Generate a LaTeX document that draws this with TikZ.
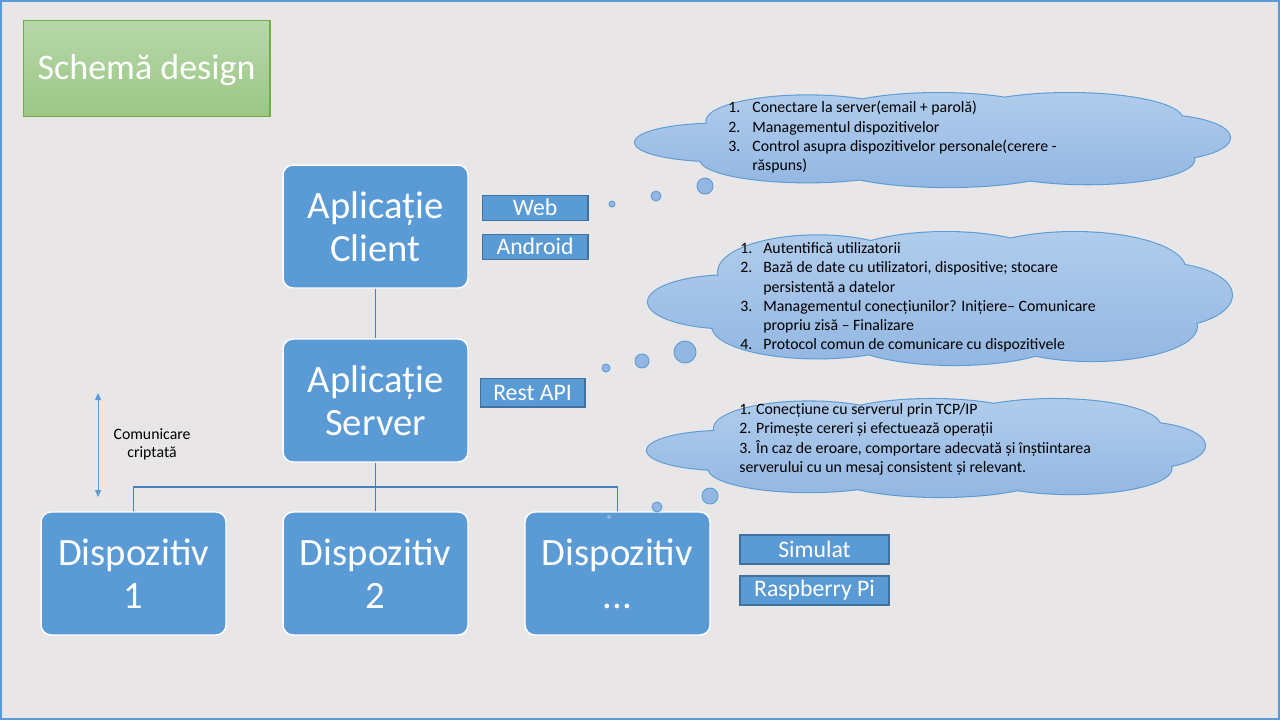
\documentclass[tikz,border=0pt]{standalone}
\usepackage{fontspec}
\setmainfont{Carlito}
\usetikzlibrary{arrows.meta}
\definecolor{slide}{HTML}{E8E6E6}
\definecolor{boxblue}{HTML}{5B9BD5}
\definecolor{boxedge}{HTML}{41719C}
\definecolor{lineblue}{HTML}{4A7EBB}
\definecolor{cloudtop}{HTML}{B0CCEC}
\definecolor{cloudbot}{HTML}{93B7E2}
\definecolor{greentop}{HTML}{B7D7A8}
\definecolor{greenbot}{HTML}{9CC787}
\definecolor{greenedge}{HTML}{70AD47}

% puffs of a cloud in a unit box: x/y/x radius/y radius
\newcommand{\pufflist}{-0.72/0.05/0.28/0.40, -0.42/-0.40/0.34/0.55, 0.02/-0.48/0.38/0.52,
  0.46/-0.45/0.38/0.55, 0.76/-0.05/0.24/0.48, 0.52/0.42/0.36/0.52, 0.05/0.50/0.40/0.50,
  -0.42/0.42/0.36/0.48, 0/0/0.65/0.6}

\begin{document}
\begin{tikzpicture}
      [x=0.02cm,y=-0.02cm,
      %%%%%%%%%%%%%%%%%%%%%%%%%%%%%%
      mainbox/.style={rectangle,rounded corners=0.2cm,fill=boxblue,draw=white,line width=0.8pt,
        minimum width=3.7cm,minimum height=2.46cm,text=white,align=center,
        font=\fontsize{22}{24.4}\selectfont},
      tagbox/.style={rectangle,fill=boxblue,draw=boxedge,line width=0.6pt,text=white,
        inner sep=0pt,font=\fontsize{13.5}{15}\selectfont},
      bubble/.style={circle,draw=boxblue,fill=cloudbot,line width=0.5pt,inner sep=0pt},
      cloudtext/.style={anchor=north west,inner sep=0pt,align=left,font=\fontsize{9}{11}\selectfont},
      link/.style={draw=lineblue,line width=0.6pt},
      ]%%%%%%%%%%%%%%%%%%%%%%%%%%%%%%

      % slide
      \fill[slide] (0,0) rectangle (1280,720);
      \draw[boxblue,line width=1.2pt] (1,1) rectangle (1279,719);

      % title
      \node[rectangle,draw=greenedge,line width=0.6pt,top color=greentop,bottom color=greenbot,
        minimum width=4.94cm,minimum height=1.92cm,text=white,text height=20pt,text depth=6.4pt,
        font=\fontsize{20.5}{22}\selectfont] (title) at (146.5,68) {Schemă design};

      % main boxes
      \node[mainbox] (client) at (375.5,226.5) {Aplicație\\Client};
      \node[mainbox] (server) at (375.5,400.5) {Aplicație\\Server};
      \node[mainbox] (disp1) at (133.5,573.5) {Dispozitiv\\1};
      \node[mainbox] (disp2) at (375.5,573.5) {Dispozitiv\\2};
      \node[mainbox] (disp3) at (617.5,573.5) {Dispozitiv\\...};

      \coordinate (split) at (375.5,487);
      \draw[link] (client) -- (server);
      \draw[link] (server) -- (split);
      \draw[link] (disp1.north) |- (split) -| (disp3.north);
      \draw[link] (split) -- (disp2);

      % tags
      \node[tagbox,minimum width=2.12cm,minimum height=0.5cm] (web) at (535,207.5) {Web};
      \node[tagbox,minimum width=2.12cm,minimum height=0.5cm] (android) at (535,246.5) {Android};
      \node[tagbox,minimum width=2.1cm,minimum height=0.58cm] (rest) at (532.5,392.5) {Rest API};
      \node[tagbox,minimum width=2.98cm,minimum height=0.58cm] (simulat) at (814.5,549.5) {Simulat};
      \node[tagbox,minimum width=2.98cm,minimum height=0.58cm] (raspi) at (814.5,590.5) {Raspberry Pi};

      % encrypted link
      \coordinate (ctop) at (98,393);
      \coordinate (cbot) at (98,497);
      \draw[boxblue,line width=0.6pt,{Triangle[length=0.14cm,width=0.12cm]}-{Triangle[length=0.14cm,width=0.12cm]}] (ctop) -- (cbot);
      \node[align=center,font=\fontsize{9}{10.2}\selectfont] (crypt) at (152,444) {Comunicare\\criptată};

      % clouds
      \foreach \cx/\cy/\hw/\hh in {932.5/140/5.95/0.94, 940/298.5/5.84/1.33, 926/448/5.58/0.98}{
        \begin{scope}[shift={(\cx,\cy)},x=\hw cm,y=-\hh cm]
          \draw[boxblue,line width=1.2pt] foreach \px/\py/\rx/\ry in \pufflist {(\px,\py) ellipse [x radius=\rx,y radius=\ry]};
          \shade[top color=cloudtop,bottom color=cloudbot] foreach \px/\py/\rx/\ry in \pufflist {(\px,\py) ellipse [x radius=\rx,y radius=\ry]};
        \end{scope}
      }

      \node[bubble,minimum size=0.12cm] (a1) at (612,204) {};
      \node[bubble,minimum size=0.2cm] (a2) at (656,196) {};
      \node[bubble,minimum size=0.32cm] (a3) at (705,186) {};
      \node[bubble,minimum size=0.16cm] (b1) at (606,368) {};
      \node[bubble,minimum size=0.28cm] (b2) at (642,361) {};
      \node[bubble,minimum size=0.44cm] (b3) at (685,352) {};
      \node[bubble,minimum size=0.1cm] (c1) at (609,517) {};
      \node[bubble,minimum size=0.2cm] (c2) at (657,507) {};
      \node[bubble,minimum size=0.32cm] (c3) at (710,496) {};

      \node[cloudtext] (textA) at (728,101) {%
        \makebox[0.48cm][l]{1.}Conectare la server(email + parolă)\\
        \makebox[0.48cm][l]{2.}Managementul  dispozitivelor\\
        \makebox[0.48cm][l]{3.}Control  asupra dispozitivelor personale(cerere -\\
        \hspace*{0.48cm}răspuns)};
      \node[cloudtext] (textB) at (740,242) {%
        \makebox[0.46cm][l]{1.}Autentifică utilizatorii\\
        \makebox[0.46cm][l]{2.}Bază de date cu utilizatori, dispositive; stocare\\
        \hspace*{0.46cm}persistentă a datelor\\
        \makebox[0.46cm][l]{3.}Managementul  conecțiunilor? Inițiere– Comunicare\\
        \hspace*{0.46cm}propriu  zisă – Finalizare\\
        \makebox[0.46cm][l]{4.}Protocol  comun  de comunicare cu dispozitivele};
      \node[cloudtext] (textC) at (739,403) {%
        1. Conecțiune cu serverul prin TCP/IP\\
        2. Primește cereri și efectuează operații\\
        3. În caz de eroare,  comportare  adecvată și înștiintarea\\
        serverului cu un mesaj consistent și relevant.};
    \end{tikzpicture}
\end{document}
